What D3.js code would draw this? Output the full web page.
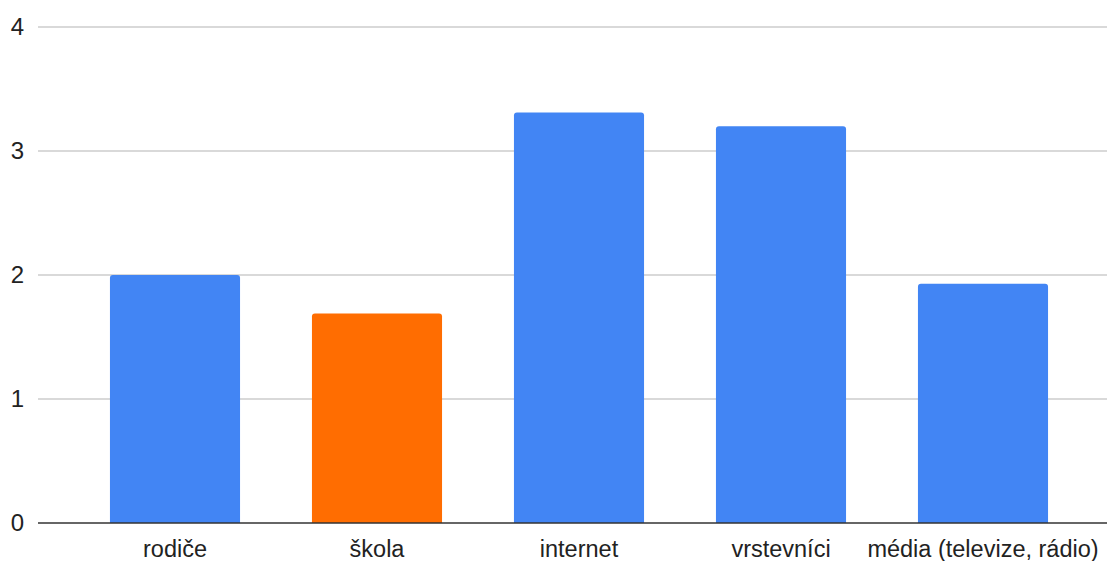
<!DOCTYPE html>
<html><head><meta charset="utf-8">
<script src="https://cdn.jsdelivr.net/npm/d3@7"></script>
<style>body{margin:0;background:#fff}svg{display:block}</style>
</head><body>
<script>
const categories = ["rodiče","škola","internet","vrstevníci","média (televize, rádio)"];
const values = [2.0, 1.69, 3.31, 3.2, 1.93];
const barColors = ["#4285f4","#ff6d01","#4285f4","#4285f4","#4285f4"];
const yTicks = [0,1,2,3,4];

(function(){
const W = 1107, H = 561;
const svg = d3.select("body").append("svg").attr("width", W).attr("height", H);
const mLeft = 38, mTop = 27, mBottom = 523;
const x = d3.scaleBand().domain(categories).range([74, 1084]).paddingInner(0.356).paddingOuter(0.178);
const y = d3.scaleLinear().domain([0,4]).range([mBottom, mTop]);
const font = "'Liberation Sans', Arial, sans-serif";

svg.append("g").selectAll("line").data(yTicks.filter(d=>d>0)).join("line")
  .attr("x1", mLeft).attr("x2", W).attr("y1", d=>y(d)).attr("y2", d=>y(d))
  .attr("stroke", "#cccccc").attr("stroke-width", 1.5);

svg.append("g").selectAll("text").data(yTicks).join("text")
  .attr("x", 24).attr("y", d=>y(d)).attr("dy", "0.35em").attr("text-anchor","end")
  .attr("font-family", font).attr("font-size", 24).attr("fill","#222")
  .text(d=>d);

const r = 3;
svg.append("g").selectAll("path").data(categories).join("path")
  .attr("fill", (d,i)=>barColors[i])
  .attr("d", (d,i)=>{
    const x0 = x(d), w = x.bandwidth(), y0 = y(values[i]), yb = y(0);
    return `M${x0},${yb}V${y0+r}Q${x0},${y0} ${x0+r},${y0}H${x0+w-r}Q${x0+w},${y0} ${x0+w},${y0+r}V${yb}Z`;
  });

svg.append("line").attr("x1", mLeft).attr("x2", W).attr("y1", y(0)).attr("y2", y(0))
  .attr("stroke","#333").attr("stroke-width",1.5);

svg.append("g").selectAll("text").data(categories).join("text")
  .attr("x", d=>x(d)+x.bandwidth()/2).attr("y", 557).attr("text-anchor","middle")
  .attr("font-family", font).attr("font-size", 23.5).attr("fill","#222")
  .text(d=>d);
})();
</script>
</body></html>
